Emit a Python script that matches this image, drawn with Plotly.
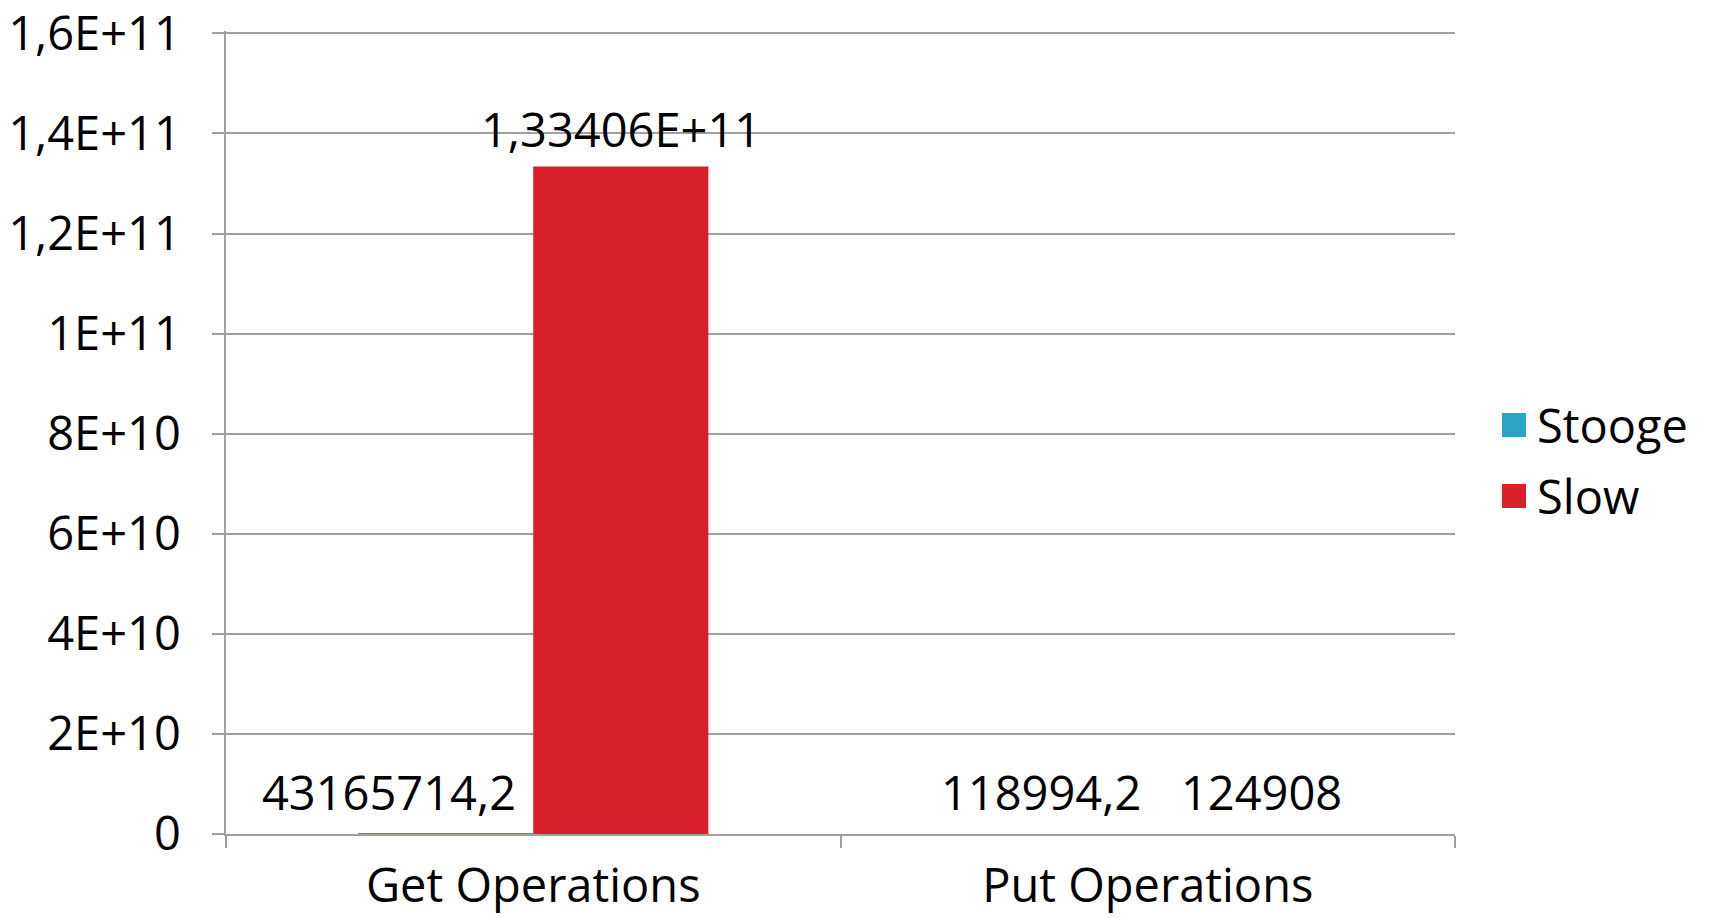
import plotly.graph_objects as go

categories = ["Get Operations", "Put Operations"]
series_names = ["Stooge", "Slow"]
stooge_values = [43165714.2, 118994.2]
slow_values = [133406000000, 124908]
y_tick_values = [0, 2e10, 4e10, 6e10, 8e10, 1e11, 1.2e11, 1.4e11, 1.6e11]
y_tick_labels = ["0", "2E+10", "4E+10", "6E+10", "8E+10", "1E+11", "1,2E+11", "1,4E+11", "1,6E+11"]

colors = ["#2CA3C1", "#D91F2A"]
FONT = "Open Sans"
FS = 47
W, H = 1709, 918
L, R, T, B = 226, 254, 31, 84
Y_MAX = 1.6e11 * 1.003


def excel_general(v):
    if abs(v) >= 1e11:
        m, e = f"{v:.5E}".split("E")
        m = m.rstrip("0").rstrip(".")
        return f"{m}E+{int(e)}".replace(".", ",")
    s = f"{v:.1f}".rstrip("0").rstrip(".")
    return s.replace(".", ",")


fig = go.Figure()
for name, vals, col in zip(series_names, [stooge_values, slow_values], colors):
    fig.add_trace(go.Bar(x=categories, y=vals, name=name, marker_color=col,
                         marker_line_width=0, showlegend=False))

# data labels (pixel offsets from category centre)
label_xshift = {("Stooge", 0): -144, ("Slow", 0): 88, ("Stooge", 1): -107, ("Slow", 1): 114}
for name, vals in zip(series_names, [stooge_values, slow_values]):
    for i, (c, v) in enumerate(zip(categories, vals)):
        fig.add_annotation(x=c, y=v, xref="x", yref="y", text=excel_general(v),
                           showarrow=False, xshift=label_xshift[(name, i)],
                           yshift=42 if v < 1e10 else 37,
                           yanchor="middle", xanchor="center",
                           font=dict(family=FONT, size=FS, color="#000"))

# manual legend
PH = H - T - B
leg_px = [425, 496]
for name, col, py in zip(series_names, colors, leg_px):
    yy = 1 - (py - T) / PH
    fig.add_shape(type="rect", xref="paper", yref="paper",
                  x0=1 + (1502 - (W - R)) / (W - L - R), x1=1 + (1526 - (W - R)) / (W - L - R),
                  y0=yy - 12 / PH, y1=yy + 12 / PH,
                  fillcolor=col, line_width=0)
    fig.add_annotation(xref="paper", yref="paper", x=1 + (1535 - (W - R)) / (W - L - R), y=yy,
                       text=name, showarrow=False, xanchor="left", yanchor="middle",
                       font=dict(family=FONT, size=FS, color="#000"))

fig.update_layout(
    width=W, height=H, margin=dict(l=L, r=R, t=T, b=B, pad=0, autoexpand=False),
    plot_bgcolor="white", paper_bgcolor="white",
    barmode="group", bargap=0.43, bargroupgap=0,
    font=dict(family=FONT, size=FS, color="#000"),
    showlegend=False,
)
fig.update_xaxes(showline=True, linecolor="#A0A0A0", linewidth=1.5,
                 ticks="outside", tickson="boundaries", ticklen=12, tickcolor="#A0A0A0",
                 tickwidth=1.5, showgrid=False, tickfont=dict(size=FS), ticklabelstandoff=10,
                 automargin=False)
fig.update_yaxes(range=[0, Y_MAX], tickvals=y_tick_values, ticktext=y_tick_labels,
                 showline=True, linecolor="#A0A0A0", linewidth=1.5,
                 ticks="outside", ticklen=12, tickcolor="#A0A0A0", tickwidth=1.5,
                 showgrid=True, gridcolor="#A0A0A0", gridwidth=1.5,
                 zeroline=False, ticklabelstandoff=22, tickfont=dict(size=FS),
                 ticklabeloverflow="allow", automargin=False)

fig.write_html("out.html", config={"displayModeBar": False},
               post_script="document.body.style.margin='0';document.body.style.overflow='hidden';")
